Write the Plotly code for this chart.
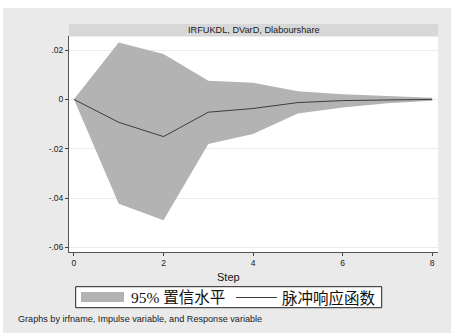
import plotly.graph_objects as go

# Impulse response of Dlabourshare to DVarD (irf set IRFUKDL)
steps = [0, 1, 2, 3, 4, 5, 6, 7, 8]
irf = [0.0, -0.0093, -0.0151, -0.0052, -0.0037, -0.0013, -0.0005, -0.0002, 0.0]
ci_upper = [0.0, 0.0231, 0.0184, 0.0076, 0.0067, 0.0033, 0.0021, 0.0013, 0.0007]
ci_lower = [0.0, -0.0423, -0.0490, -0.0181, -0.0140, -0.0057, -0.0033, -0.0016, -0.0006]

y_ticks = [0.02, 0.0, -0.02, -0.04, -0.06]
y_tick_text = [".02", "0", "-.02", "-.04", "-.06"]
x_ticks = [0, 2, 4, 6, 8]

panel_title = "IRFUKDL, DVarD, Dlabourshare"
legend_ci = "95% 置信水平"
legend_irf = "脉冲响应函数"
note = "Graphs by irfname, Impulse variable, and Response variable"

W, H = 451, 333
L, R, T, B = 69, 438, 36, 252  # plot region in pixels


def px(x):
    return (x - L) / (R - L)


def py(y):
    return (B - y) / (B - T)


band_col = "#b3b3b3"
line_col = "#3c3c3c"
outer_bg = "#eaeaea"

fig = go.Figure()
fig.add_trace(go.Scatter(x=steps, y=ci_lower, mode="lines", line=dict(width=0),
                         hoverinfo="skip", showlegend=False))
fig.add_trace(go.Scatter(x=steps, y=ci_upper, mode="lines", line=dict(width=0),
                         fill="tonexty", fillcolor=band_col, showlegend=False))
fig.add_trace(go.Scatter(x=steps, y=irf, mode="lines",
                         line=dict(color=line_col, width=1), showlegend=False))

shapes = [
    # white strips along the top and left edges
    dict(type="rect", xref="paper", yref="paper", x0=px(0), x1=px(W), y0=py(8), y1=py(0),
         fillcolor="white", line=dict(width=0), layer="above"),
    dict(type="rect", xref="paper", yref="paper", x0=px(0), x1=px(3), y0=py(H), y1=py(0),
         fillcolor="white", line=dict(width=0), layer="above"),
    # panel title band
    dict(type="rect", xref="paper", yref="paper", x0=0, x1=1, y0=py(36.5), y1=py(24),
         fillcolor="#d7d7d7", line=dict(width=0), layer="above"),
    # legend box
    dict(type="rect", xref="paper", yref="paper", x0=px(75.7), x1=px(381.7),
         y0=py(307.7), y1=py(286.7), fillcolor="white",
         line=dict(color="#222222", width=1), layer="above"),
    dict(type="rect", xref="paper", yref="paper", x0=px(81), x1=px(124),
         y0=py(302), y1=py(292), fillcolor=band_col, line=dict(width=0), layer="above"),
    dict(type="line", xref="paper", yref="paper", x0=px(236), x1=px(277),
         y0=py(297.5), y1=py(297.5), line=dict(color=line_col, width=1), layer="above"),
]

legend_font = dict(family="Liberation Serif, Noto Sans CJK SC", size=15.5, color="#111111")
sans = "Liberation Sans, Arial, sans-serif"

annotations = [
    dict(text=panel_title, xref="paper", yref="paper", x=0.5, y=py(30.3),
         xanchor="center", yanchor="middle", showarrow=False,
         font=dict(family=sans, size=9.2, color="#1a1a1a")),
    dict(text=legend_ci, xref="paper", yref="paper", x=px(128.5), y=py(297.5),
         xanchor="left", yanchor="middle", showarrow=False, font=legend_font),
    dict(text=legend_irf, xref="paper", yref="paper", x=px(280), y=py(297.5),
         xanchor="left", yanchor="middle", showarrow=False, font=legend_font),
    dict(text=note, xref="paper", yref="paper", x=px(15.5), y=py(319),
         xanchor="left", yanchor="middle", showarrow=False,
         font=dict(family=sans, size=9.1, color="#1a1a1a")),
    dict(text="Step", xref="paper", yref="paper", x=px(228.5), y=py(276.5),
         xanchor="center", yanchor="middle", showarrow=False,
         font=dict(family=sans, size=11, color="#111111")),
]

fig.update_layout(
    width=W, height=H,
    margin=dict(l=L, r=W - R, t=T, b=H - B, pad=0),
    paper_bgcolor=outer_bg, plot_bgcolor="white",
    shapes=shapes, annotations=annotations,
    showlegend=False,
    xaxis=dict(range=[-0.11, 8.13], tickvals=x_ticks, ticks="outside", ticklen=3,
               tickcolor="#444444", showgrid=False, zeroline=False, showline=True,
               linecolor="#555555", linewidth=1,
               tickfont=dict(family=sans, size=8.5, color="#1a1a1a")),
    yaxis=dict(range=[-0.0619, 0.0257], tickvals=y_ticks, ticktext=y_tick_text,
               ticks="outside", ticklen=3, tickcolor="#444444",
               showgrid=True, gridcolor="#ececec", gridwidth=1, zeroline=False,
               showline=True, linecolor="#555555", linewidth=1,
               tickfont=dict(family=sans, size=8.5, color="#1a1a1a")),
)

fig.write_html("out.html")
